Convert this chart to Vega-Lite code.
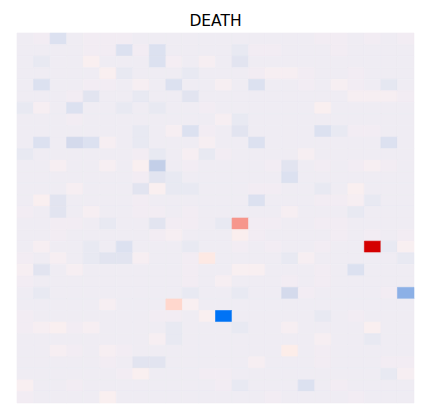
{"$schema":"https://vega.github.io/schema/vega-lite/v6.json","width":397,"height":370,"autosize":{"type":"none"},"padding":{"left":17,"top":33,"right":16,"bottom":17},"title":{"text":"DEATH","font":"DejaVu Sans","fontSize":15.5,"fontWeight":"normal","color":"#000000","offset":3.5},"config":{"view":{"stroke":null}},
"data":{"values":[
{"r":0,"c":0,"v":0},{"r":0,"c":1,"v":0.02},{"r":0,"c":2,"v":-0.08},{"r":0,"c":3,"v":0},{"r":0,"c":4,"v":0.02},{"r":0,"c":5,"v":0.02},{"r":0,"c":6,"v":0.02},{"r":0,"c":7,"v":0},{"r":0,"c":8,"v":0},{"r":0,"c":9,"v":0},{"r":0,"c":10,"v":0},{"r":0,"c":11,"v":0},{"r":0,"c":12,"v":0},{"r":0,"c":13,"v":0},{"r":0,"c":14,"v":0},{"r":0,"c":15,"v":0},{"r":0,"c":16,"v":0},{"r":0,"c":17,"v":0},{"r":0,"c":18,"v":0.02},{"r":0,"c":19,"v":0.02},{"r":0,"c":20,"v":0},{"r":0,"c":21,"v":0.02},{"r":0,"c":22,"v":0},{"r":0,"c":23,"v":0.02},
{"r":1,"c":0,"v":0},{"r":1,"c":1,"v":0},{"r":1,"c":2,"v":0},{"r":1,"c":3,"v":0},{"r":1,"c":4,"v":0.02},{"r":1,"c":5,"v":0.02},{"r":1,"c":6,"v":-0.08},{"r":1,"c":7,"v":0.02},{"r":1,"c":8,"v":-0.08},{"r":1,"c":9,"v":0},{"r":1,"c":10,"v":0},{"r":1,"c":11,"v":0},{"r":1,"c":12,"v":0},{"r":1,"c":13,"v":-0.03},{"r":1,"c":14,"v":0.02},{"r":1,"c":15,"v":0.02},{"r":1,"c":16,"v":0},{"r":1,"c":17,"v":0},{"r":1,"c":18,"v":0},{"r":1,"c":19,"v":0.02},{"r":1,"c":20,"v":0},{"r":1,"c":21,"v":0},{"r":1,"c":22,"v":0},{"r":1,"c":23,"v":0},
{"r":2,"c":0,"v":0},{"r":2,"c":1,"v":-0.03},{"r":2,"c":2,"v":0},{"r":2,"c":3,"v":0},{"r":2,"c":4,"v":0.06},{"r":2,"c":5,"v":0},{"r":2,"c":6,"v":0},{"r":2,"c":7,"v":0},{"r":2,"c":8,"v":-0.08},{"r":2,"c":9,"v":0.03},{"r":2,"c":10,"v":0},{"r":2,"c":11,"v":0.04},{"r":2,"c":12,"v":0},{"r":2,"c":13,"v":-0.05},{"r":2,"c":14,"v":0},{"r":2,"c":15,"v":0},{"r":2,"c":16,"v":0},{"r":2,"c":17,"v":0},{"r":2,"c":18,"v":0},{"r":2,"c":19,"v":0},{"r":2,"c":20,"v":0},{"r":2,"c":21,"v":0},{"r":2,"c":22,"v":0},{"r":2,"c":23,"v":0},
{"r":3,"c":0,"v":0},{"r":3,"c":1,"v":0},{"r":3,"c":2,"v":0},{"r":3,"c":3,"v":0},{"r":3,"c":4,"v":0},{"r":3,"c":5,"v":0.06},{"r":3,"c":6,"v":-0.03},{"r":3,"c":7,"v":0},{"r":3,"c":8,"v":0},{"r":3,"c":9,"v":0},{"r":3,"c":10,"v":-0.03},{"r":3,"c":11,"v":0},{"r":3,"c":12,"v":0},{"r":3,"c":13,"v":0},{"r":3,"c":14,"v":0.02},{"r":3,"c":15,"v":0.04},{"r":3,"c":16,"v":0.04},{"r":3,"c":17,"v":0.02},{"r":3,"c":18,"v":0},{"r":3,"c":19,"v":0},{"r":3,"c":20,"v":0.02},{"r":3,"c":21,"v":0},{"r":3,"c":22,"v":0},{"r":3,"c":23,"v":0},
{"r":4,"c":0,"v":0},{"r":4,"c":1,"v":-0.08},{"r":4,"c":2,"v":0},{"r":4,"c":3,"v":0},{"r":4,"c":4,"v":0.02},{"r":4,"c":5,"v":0.02},{"r":4,"c":6,"v":0},{"r":4,"c":7,"v":0.04},{"r":4,"c":8,"v":0},{"r":4,"c":9,"v":-0.08},{"r":4,"c":10,"v":0},{"r":4,"c":11,"v":0},{"r":4,"c":12,"v":0.04},{"r":4,"c":13,"v":0},{"r":4,"c":14,"v":-0.08},{"r":4,"c":15,"v":0},{"r":4,"c":16,"v":0},{"r":4,"c":17,"v":0.02},{"r":4,"c":18,"v":0},{"r":4,"c":19,"v":0.04},{"r":4,"c":20,"v":0.02},{"r":4,"c":21,"v":0},{"r":4,"c":22,"v":-0.04},{"r":4,"c":23,"v":0},
{"r":5,"c":0,"v":0},{"r":5,"c":1,"v":0},{"r":5,"c":2,"v":0},{"r":5,"c":3,"v":0.02},{"r":5,"c":4,"v":-0.05},{"r":5,"c":5,"v":0},{"r":5,"c":6,"v":0},{"r":5,"c":7,"v":-0.03},{"r":5,"c":8,"v":0},{"r":5,"c":9,"v":0},{"r":5,"c":10,"v":-0.05},{"r":5,"c":11,"v":0},{"r":5,"c":12,"v":0},{"r":5,"c":13,"v":0},{"r":5,"c":14,"v":0},{"r":5,"c":15,"v":0},{"r":5,"c":16,"v":0},{"r":5,"c":17,"v":0},{"r":5,"c":18,"v":0},{"r":5,"c":19,"v":0},{"r":5,"c":20,"v":0.04},{"r":5,"c":21,"v":0.04},{"r":5,"c":22,"v":0.04},{"r":5,"c":23,"v":0.02},
{"r":6,"c":0,"v":-0.03},{"r":6,"c":1,"v":0.04},{"r":6,"c":2,"v":0},{"r":6,"c":3,"v":-0.08},{"r":6,"c":4,"v":0},{"r":6,"c":5,"v":0},{"r":6,"c":6,"v":-0.03},{"r":6,"c":7,"v":0},{"r":6,"c":8,"v":-0.03},{"r":6,"c":9,"v":0},{"r":6,"c":10,"v":0},{"r":6,"c":11,"v":0.02},{"r":6,"c":12,"v":0},{"r":6,"c":13,"v":0},{"r":6,"c":14,"v":0},{"r":6,"c":15,"v":0},{"r":6,"c":16,"v":0},{"r":6,"c":17,"v":0},{"r":6,"c":18,"v":0.06},{"r":6,"c":19,"v":0},{"r":6,"c":20,"v":0},{"r":6,"c":21,"v":0},{"r":6,"c":22,"v":0},{"r":6,"c":23,"v":0},
{"r":7,"c":0,"v":0},{"r":7,"c":1,"v":0},{"r":7,"c":2,"v":0},{"r":7,"c":3,"v":0.02},{"r":7,"c":4,"v":0},{"r":7,"c":5,"v":0},{"r":7,"c":6,"v":0},{"r":7,"c":7,"v":0},{"r":7,"c":8,"v":0},{"r":7,"c":9,"v":0},{"r":7,"c":10,"v":0},{"r":7,"c":11,"v":0},{"r":7,"c":12,"v":0.04},{"r":7,"c":13,"v":-0.03},{"r":7,"c":14,"v":0},{"r":7,"c":15,"v":0},{"r":7,"c":16,"v":0},{"r":7,"c":17,"v":0},{"r":7,"c":18,"v":0},{"r":7,"c":19,"v":0},{"r":7,"c":20,"v":0},{"r":7,"c":21,"v":0},{"r":7,"c":22,"v":0},{"r":7,"c":23,"v":0},
{"r":8,"c":0,"v":0},{"r":8,"c":1,"v":0},{"r":8,"c":2,"v":0},{"r":8,"c":3,"v":0},{"r":8,"c":4,"v":0},{"r":8,"c":5,"v":0},{"r":8,"c":6,"v":0},{"r":8,"c":7,"v":-0.03},{"r":8,"c":8,"v":0},{"r":8,"c":9,"v":0.04},{"r":8,"c":10,"v":-0.08},{"r":8,"c":11,"v":0.02},{"r":8,"c":12,"v":0},{"r":8,"c":13,"v":-0.05},{"r":8,"c":14,"v":0},{"r":8,"c":15,"v":0},{"r":8,"c":16,"v":0},{"r":8,"c":17,"v":0},{"r":8,"c":18,"v":-0.08},{"r":8,"c":19,"v":-0.03},{"r":8,"c":20,"v":0.02},{"r":8,"c":21,"v":0.02},{"r":8,"c":22,"v":0},{"r":8,"c":23,"v":0},
{"r":9,"c":0,"v":0},{"r":9,"c":1,"v":-0.08},{"r":9,"c":2,"v":0},{"r":9,"c":3,"v":-0.12},{"r":9,"c":4,"v":-0.08},{"r":9,"c":5,"v":0.04},{"r":9,"c":6,"v":0},{"r":9,"c":7,"v":-0.03},{"r":9,"c":8,"v":0},{"r":9,"c":9,"v":0},{"r":9,"c":10,"v":0},{"r":9,"c":11,"v":0.04},{"r":9,"c":12,"v":0},{"r":9,"c":13,"v":0},{"r":9,"c":14,"v":-0.08},{"r":9,"c":15,"v":0},{"r":9,"c":16,"v":0},{"r":9,"c":17,"v":0},{"r":9,"c":18,"v":0},{"r":9,"c":19,"v":0},{"r":9,"c":20,"v":0},{"r":9,"c":21,"v":0},{"r":9,"c":22,"v":-0.08},{"r":9,"c":23,"v":0},
{"r":10,"c":0,"v":-0.03},{"r":10,"c":1,"v":0},{"r":10,"c":2,"v":0},{"r":10,"c":3,"v":0},{"r":10,"c":4,"v":0},{"r":10,"c":5,"v":0},{"r":10,"c":6,"v":0},{"r":10,"c":7,"v":0.02},{"r":10,"c":8,"v":-0.03},{"r":10,"c":9,"v":0},{"r":10,"c":10,"v":0.04},{"r":10,"c":11,"v":-0.03},{"r":10,"c":12,"v":0.02},{"r":10,"c":13,"v":0},{"r":10,"c":14,"v":0},{"r":10,"c":15,"v":0},{"r":10,"c":16,"v":0},{"r":10,"c":17,"v":0.04},{"r":10,"c":18,"v":0},{"r":10,"c":19,"v":0},{"r":10,"c":20,"v":0},{"r":10,"c":21,"v":0},{"r":10,"c":22,"v":0},{"r":10,"c":23,"v":0},
{"r":11,"c":0,"v":0},{"r":11,"c":1,"v":0},{"r":11,"c":2,"v":0.04},{"r":11,"c":3,"v":0},{"r":11,"c":4,"v":0},{"r":11,"c":5,"v":0.04},{"r":11,"c":6,"v":0},{"r":11,"c":7,"v":0.06},{"r":11,"c":8,"v":-0.25},{"r":11,"c":9,"v":0},{"r":11,"c":10,"v":0.02},{"r":11,"c":11,"v":0},{"r":11,"c":12,"v":0},{"r":11,"c":13,"v":0},{"r":11,"c":14,"v":0},{"r":11,"c":15,"v":0.02},{"r":11,"c":16,"v":-0.05},{"r":11,"c":17,"v":0},{"r":11,"c":18,"v":0.02},{"r":11,"c":19,"v":0},{"r":11,"c":20,"v":0.02},{"r":11,"c":21,"v":0.04},{"r":11,"c":22,"v":0.02},{"r":11,"c":23,"v":0},
{"r":12,"c":0,"v":0},{"r":12,"c":1,"v":0},{"r":12,"c":2,"v":0},{"r":12,"c":3,"v":0},{"r":12,"c":4,"v":0},{"r":12,"c":5,"v":0},{"r":12,"c":6,"v":0},{"r":12,"c":7,"v":0.02},{"r":12,"c":8,"v":-0.05},{"r":12,"c":9,"v":-0.03},{"r":12,"c":10,"v":0},{"r":12,"c":11,"v":0},{"r":12,"c":12,"v":0},{"r":12,"c":13,"v":0},{"r":12,"c":14,"v":0},{"r":12,"c":15,"v":0},{"r":12,"c":16,"v":-0.08},{"r":12,"c":17,"v":0},{"r":12,"c":18,"v":0},{"r":12,"c":19,"v":0},{"r":12,"c":20,"v":0},{"r":12,"c":21,"v":0},{"r":12,"c":22,"v":0},{"r":12,"c":23,"v":0},
{"r":13,"c":0,"v":0},{"r":13,"c":1,"v":0},{"r":13,"c":2,"v":0},{"r":13,"c":3,"v":0.04},{"r":13,"c":4,"v":0},{"r":13,"c":5,"v":0},{"r":13,"c":6,"v":0},{"r":13,"c":7,"v":-0.05},{"r":13,"c":8,"v":0.06},{"r":13,"c":9,"v":-0.03},{"r":13,"c":10,"v":-0.03},{"r":13,"c":11,"v":0},{"r":13,"c":12,"v":0},{"r":13,"c":13,"v":0},{"r":13,"c":14,"v":0.02},{"r":13,"c":15,"v":0.02},{"r":13,"c":16,"v":0},{"r":13,"c":17,"v":0},{"r":13,"c":18,"v":-0.03},{"r":13,"c":19,"v":0},{"r":13,"c":20,"v":0.06},{"r":13,"c":21,"v":0},{"r":13,"c":22,"v":0},{"r":13,"c":23,"v":0},
{"r":14,"c":0,"v":0},{"r":14,"c":1,"v":0.06},{"r":14,"c":2,"v":-0.05},{"r":14,"c":3,"v":0},{"r":14,"c":4,"v":0},{"r":14,"c":5,"v":0},{"r":14,"c":6,"v":0},{"r":14,"c":7,"v":0.02},{"r":14,"c":8,"v":0},{"r":14,"c":9,"v":0},{"r":14,"c":10,"v":0},{"r":14,"c":11,"v":0},{"r":14,"c":12,"v":0},{"r":14,"c":13,"v":0},{"r":14,"c":14,"v":-0.08},{"r":14,"c":15,"v":0},{"r":14,"c":16,"v":0},{"r":14,"c":17,"v":0},{"r":14,"c":18,"v":0.02},{"r":14,"c":19,"v":0.02},{"r":14,"c":20,"v":0.04},{"r":14,"c":21,"v":-0.03},{"r":14,"c":22,"v":0},{"r":14,"c":23,"v":0},
{"r":15,"c":0,"v":0.02},{"r":15,"c":1,"v":0},{"r":15,"c":2,"v":-0.05},{"r":15,"c":3,"v":0},{"r":15,"c":4,"v":0.04},{"r":15,"c":5,"v":0},{"r":15,"c":6,"v":0},{"r":15,"c":7,"v":0.02},{"r":15,"c":8,"v":0.02},{"r":15,"c":9,"v":0},{"r":15,"c":10,"v":0.02},{"r":15,"c":11,"v":0},{"r":15,"c":12,"v":0},{"r":15,"c":13,"v":0},{"r":15,"c":14,"v":0},{"r":15,"c":15,"v":0},{"r":15,"c":16,"v":0.04},{"r":15,"c":17,"v":0},{"r":15,"c":18,"v":0},{"r":15,"c":19,"v":0},{"r":15,"c":20,"v":-0.03},{"r":15,"c":21,"v":0},{"r":15,"c":22,"v":0},{"r":15,"c":23,"v":0},
{"r":16,"c":0,"v":0},{"r":16,"c":1,"v":0},{"r":16,"c":2,"v":0.02},{"r":16,"c":3,"v":0.02},{"r":16,"c":4,"v":0},{"r":16,"c":5,"v":-0.03},{"r":16,"c":6,"v":0},{"r":16,"c":7,"v":0},{"r":16,"c":8,"v":-0.05},{"r":16,"c":9,"v":0.02},{"r":16,"c":10,"v":0.02},{"r":16,"c":11,"v":0},{"r":16,"c":12,"v":-0.03},{"r":16,"c":13,"v":0.45},{"r":16,"c":14,"v":0.02},{"r":16,"c":15,"v":0.02},{"r":16,"c":16,"v":0},{"r":16,"c":17,"v":0},{"r":16,"c":18,"v":0.02},{"r":16,"c":19,"v":0.02},{"r":16,"c":20,"v":0},{"r":16,"c":21,"v":0},{"r":16,"c":22,"v":0},{"r":16,"c":23,"v":0},
{"r":17,"c":0,"v":0},{"r":17,"c":1,"v":0},{"r":17,"c":2,"v":0.02},{"r":17,"c":3,"v":0},{"r":17,"c":4,"v":0},{"r":17,"c":5,"v":0},{"r":17,"c":6,"v":0},{"r":17,"c":7,"v":0},{"r":17,"c":8,"v":0.02},{"r":17,"c":9,"v":0.04},{"r":17,"c":10,"v":0},{"r":17,"c":11,"v":0},{"r":17,"c":12,"v":0},{"r":17,"c":13,"v":0.07},{"r":17,"c":14,"v":0.02},{"r":17,"c":15,"v":0},{"r":17,"c":16,"v":0},{"r":17,"c":17,"v":0},{"r":17,"c":18,"v":0},{"r":17,"c":19,"v":0.02},{"r":17,"c":20,"v":0},{"r":17,"c":21,"v":0.02},{"r":17,"c":22,"v":0},{"r":17,"c":23,"v":0.02},
{"r":18,"c":0,"v":0},{"r":18,"c":1,"v":0.04},{"r":18,"c":2,"v":0},{"r":18,"c":3,"v":0},{"r":18,"c":4,"v":-0.03},{"r":18,"c":5,"v":0},{"r":18,"c":6,"v":-0.08},{"r":18,"c":7,"v":0},{"r":18,"c":8,"v":0},{"r":18,"c":9,"v":0},{"r":18,"c":10,"v":-0.03},{"r":18,"c":11,"v":0},{"r":18,"c":12,"v":0},{"r":18,"c":13,"v":0.02},{"r":18,"c":14,"v":0},{"r":18,"c":15,"v":0.02},{"r":18,"c":16,"v":0},{"r":18,"c":17,"v":0},{"r":18,"c":18,"v":0.02},{"r":18,"c":19,"v":0},{"r":18,"c":20,"v":0},{"r":18,"c":21,"v":1},{"r":18,"c":22,"v":-0.03},{"r":18,"c":23,"v":0.05},
{"r":19,"c":0,"v":0.02},{"r":19,"c":1,"v":0},{"r":19,"c":2,"v":0.04},{"r":19,"c":3,"v":0},{"r":19,"c":4,"v":-0.03},{"r":19,"c":5,"v":-0.05},{"r":19,"c":6,"v":-0.05},{"r":19,"c":7,"v":0.04},{"r":19,"c":8,"v":0},{"r":19,"c":9,"v":0},{"r":19,"c":10,"v":0.02},{"r":19,"c":11,"v":0.1},{"r":19,"c":12,"v":0},{"r":19,"c":13,"v":0},{"r":19,"c":14,"v":0},{"r":19,"c":15,"v":0},{"r":19,"c":16,"v":-0.03},{"r":19,"c":17,"v":0.04},{"r":19,"c":18,"v":0},{"r":19,"c":19,"v":0},{"r":19,"c":20,"v":0},{"r":19,"c":21,"v":0},{"r":19,"c":22,"v":0},{"r":19,"c":23,"v":-0.03},
{"r":20,"c":0,"v":0.04},{"r":20,"c":1,"v":-0.05},{"r":20,"c":2,"v":0},{"r":20,"c":3,"v":0.04},{"r":20,"c":4,"v":0},{"r":20,"c":5,"v":0},{"r":20,"c":6,"v":0},{"r":20,"c":7,"v":0},{"r":20,"c":8,"v":0},{"r":20,"c":9,"v":0},{"r":20,"c":10,"v":0.02},{"r":20,"c":11,"v":0},{"r":20,"c":12,"v":0},{"r":20,"c":13,"v":0.05},{"r":20,"c":14,"v":0.05},{"r":20,"c":15,"v":0},{"r":20,"c":16,"v":0},{"r":20,"c":17,"v":0},{"r":20,"c":18,"v":0.02},{"r":20,"c":19,"v":0},{"r":20,"c":20,"v":-0.08},{"r":20,"c":21,"v":0},{"r":20,"c":22,"v":0},{"r":20,"c":23,"v":0},
{"r":21,"c":0,"v":0.02},{"r":21,"c":1,"v":0},{"r":21,"c":2,"v":0},{"r":21,"c":3,"v":0},{"r":21,"c":4,"v":0},{"r":21,"c":5,"v":0},{"r":21,"c":6,"v":0},{"r":21,"c":7,"v":0},{"r":21,"c":8,"v":0},{"r":21,"c":9,"v":0},{"r":21,"c":10,"v":0.02},{"r":21,"c":11,"v":0},{"r":21,"c":12,"v":0.04},{"r":21,"c":13,"v":0},{"r":21,"c":14,"v":0},{"r":21,"c":15,"v":0},{"r":21,"c":16,"v":0.02},{"r":21,"c":17,"v":0},{"r":21,"c":18,"v":0.02},{"r":21,"c":19,"v":0},{"r":21,"c":20,"v":0},{"r":21,"c":21,"v":0},{"r":21,"c":22,"v":0},{"r":21,"c":23,"v":0},
{"r":22,"c":0,"v":0},{"r":22,"c":1,"v":-0.03},{"r":22,"c":2,"v":0},{"r":22,"c":3,"v":0},{"r":22,"c":4,"v":0},{"r":22,"c":5,"v":0},{"r":22,"c":6,"v":0},{"r":22,"c":7,"v":0},{"r":22,"c":8,"v":0},{"r":22,"c":9,"v":0},{"r":22,"c":10,"v":-0.03},{"r":22,"c":11,"v":0},{"r":22,"c":12,"v":0},{"r":22,"c":13,"v":-0.03},{"r":22,"c":14,"v":0},{"r":22,"c":15,"v":0},{"r":22,"c":16,"v":-0.12},{"r":22,"c":17,"v":0.02},{"r":22,"c":18,"v":0},{"r":22,"c":19,"v":0},{"r":22,"c":20,"v":0},{"r":22,"c":21,"v":0},{"r":22,"c":22,"v":0.02},{"r":22,"c":23,"v":-0.48},
{"r":23,"c":0,"v":0},{"r":23,"c":1,"v":0},{"r":23,"c":2,"v":0},{"r":23,"c":3,"v":0},{"r":23,"c":4,"v":0},{"r":23,"c":5,"v":0.04},{"r":23,"c":6,"v":0},{"r":23,"c":7,"v":0},{"r":23,"c":8,"v":0},{"r":23,"c":9,"v":0.15},{"r":23,"c":10,"v":0.05},{"r":23,"c":11,"v":0},{"r":23,"c":12,"v":0},{"r":23,"c":13,"v":0},{"r":23,"c":14,"v":0},{"r":23,"c":15,"v":0},{"r":23,"c":16,"v":0},{"r":23,"c":17,"v":0},{"r":23,"c":18,"v":0},{"r":23,"c":19,"v":0},{"r":23,"c":20,"v":0},{"r":23,"c":21,"v":0},{"r":23,"c":22,"v":0},{"r":23,"c":23,"v":0},
{"r":24,"c":0,"v":0.02},{"r":24,"c":1,"v":0},{"r":24,"c":2,"v":0},{"r":24,"c":3,"v":0},{"r":24,"c":4,"v":0},{"r":24,"c":5,"v":0},{"r":24,"c":6,"v":0},{"r":24,"c":7,"v":0},{"r":24,"c":8,"v":0.02},{"r":24,"c":9,"v":0.02},{"r":24,"c":10,"v":0},{"r":24,"c":11,"v":0.06},{"r":24,"c":12,"v":-1},{"r":24,"c":13,"v":0},{"r":24,"c":14,"v":0},{"r":24,"c":15,"v":0},{"r":24,"c":16,"v":0},{"r":24,"c":17,"v":0},{"r":24,"c":18,"v":-0.03},{"r":24,"c":19,"v":0},{"r":24,"c":20,"v":0.02},{"r":24,"c":21,"v":0},{"r":24,"c":22,"v":0},{"r":24,"c":23,"v":0},
{"r":25,"c":0,"v":0.02},{"r":25,"c":1,"v":0.04},{"r":25,"c":2,"v":0.06},{"r":25,"c":3,"v":0.02},{"r":25,"c":4,"v":0.04},{"r":25,"c":5,"v":0},{"r":25,"c":6,"v":0},{"r":25,"c":7,"v":0},{"r":25,"c":8,"v":0},{"r":25,"c":9,"v":-0.03},{"r":25,"c":10,"v":0},{"r":25,"c":11,"v":0},{"r":25,"c":12,"v":0},{"r":25,"c":13,"v":-0.03},{"r":25,"c":14,"v":0},{"r":25,"c":15,"v":0},{"r":25,"c":16,"v":0.04},{"r":25,"c":17,"v":0},{"r":25,"c":18,"v":0},{"r":25,"c":19,"v":0},{"r":25,"c":20,"v":0},{"r":25,"c":21,"v":0.06},{"r":25,"c":22,"v":0},{"r":25,"c":23,"v":0},
{"r":26,"c":0,"v":0},{"r":26,"c":1,"v":0},{"r":26,"c":2,"v":0},{"r":26,"c":3,"v":0},{"r":26,"c":4,"v":0},{"r":26,"c":5,"v":0},{"r":26,"c":6,"v":0},{"r":26,"c":7,"v":0},{"r":26,"c":8,"v":0.04},{"r":26,"c":9,"v":-0.03},{"r":26,"c":10,"v":0},{"r":26,"c":11,"v":0},{"r":26,"c":12,"v":0},{"r":26,"c":13,"v":0},{"r":26,"c":14,"v":0},{"r":26,"c":15,"v":0},{"r":26,"c":16,"v":0},{"r":26,"c":17,"v":0},{"r":26,"c":18,"v":0.04},{"r":26,"c":19,"v":0},{"r":26,"c":20,"v":0},{"r":26,"c":21,"v":-0.03},{"r":26,"c":22,"v":0},{"r":26,"c":23,"v":0},
{"r":27,"c":0,"v":0},{"r":27,"c":1,"v":0},{"r":27,"c":2,"v":0.04},{"r":27,"c":3,"v":0.02},{"r":27,"c":4,"v":0},{"r":27,"c":5,"v":0.04},{"r":27,"c":6,"v":0.02},{"r":27,"c":7,"v":0},{"r":27,"c":8,"v":0},{"r":27,"c":9,"v":0},{"r":27,"c":10,"v":0},{"r":27,"c":11,"v":0},{"r":27,"c":12,"v":0},{"r":27,"c":13,"v":0},{"r":27,"c":14,"v":0},{"r":27,"c":15,"v":0},{"r":27,"c":16,"v":0.09},{"r":27,"c":17,"v":0},{"r":27,"c":18,"v":0.02},{"r":27,"c":19,"v":0},{"r":27,"c":20,"v":0},{"r":27,"c":21,"v":0},{"r":27,"c":22,"v":0},{"r":27,"c":23,"v":0},
{"r":28,"c":0,"v":0},{"r":28,"c":1,"v":0},{"r":28,"c":2,"v":0},{"r":28,"c":3,"v":0},{"r":28,"c":4,"v":0},{"r":28,"c":5,"v":0.02},{"r":28,"c":6,"v":0},{"r":28,"c":7,"v":-0.05},{"r":28,"c":8,"v":-0.05},{"r":28,"c":9,"v":0},{"r":28,"c":10,"v":0},{"r":28,"c":11,"v":0},{"r":28,"c":12,"v":0},{"r":28,"c":13,"v":0},{"r":28,"c":14,"v":0.04},{"r":28,"c":15,"v":0},{"r":28,"c":16,"v":0},{"r":28,"c":17,"v":0},{"r":28,"c":18,"v":0.02},{"r":28,"c":19,"v":0},{"r":28,"c":20,"v":0},{"r":28,"c":21,"v":0},{"r":28,"c":22,"v":0.02},{"r":28,"c":23,"v":0.02},
{"r":29,"c":0,"v":0},{"r":29,"c":1,"v":0},{"r":29,"c":2,"v":0},{"r":29,"c":3,"v":0},{"r":29,"c":4,"v":0},{"r":29,"c":5,"v":0},{"r":29,"c":6,"v":0.02},{"r":29,"c":7,"v":0.06},{"r":29,"c":8,"v":0},{"r":29,"c":9,"v":0},{"r":29,"c":10,"v":0},{"r":29,"c":11,"v":0.02},{"r":29,"c":12,"v":0.02},{"r":29,"c":13,"v":0},{"r":29,"c":14,"v":0},{"r":29,"c":15,"v":0},{"r":29,"c":16,"v":0},{"r":29,"c":17,"v":0},{"r":29,"c":18,"v":0},{"r":29,"c":19,"v":0},{"r":29,"c":20,"v":0},{"r":29,"c":21,"v":0},{"r":29,"c":22,"v":-0.03},{"r":29,"c":23,"v":0.04},
{"r":30,"c":0,"v":0.05},{"r":30,"c":1,"v":0},{"r":30,"c":2,"v":0},{"r":30,"c":3,"v":0.02},{"r":30,"c":4,"v":0},{"r":30,"c":5,"v":0},{"r":30,"c":6,"v":0},{"r":30,"c":7,"v":0},{"r":30,"c":8,"v":0},{"r":30,"c":9,"v":0},{"r":30,"c":10,"v":0},{"r":30,"c":11,"v":0},{"r":30,"c":12,"v":0.02},{"r":30,"c":13,"v":-0.03},{"r":30,"c":14,"v":0},{"r":30,"c":15,"v":0},{"r":30,"c":16,"v":0},{"r":30,"c":17,"v":-0.08},{"r":30,"c":18,"v":0},{"r":30,"c":19,"v":0.02},{"r":30,"c":20,"v":0},{"r":30,"c":21,"v":0},{"r":30,"c":22,"v":0},{"r":30,"c":23,"v":0},
{"r":31,"c":0,"v":0.02},{"r":31,"c":1,"v":0},{"r":31,"c":2,"v":0},{"r":31,"c":3,"v":0},{"r":31,"c":4,"v":0},{"r":31,"c":5,"v":0.06},{"r":31,"c":6,"v":0},{"r":31,"c":7,"v":0},{"r":31,"c":8,"v":0},{"r":31,"c":9,"v":0},{"r":31,"c":10,"v":0},{"r":31,"c":11,"v":0},{"r":31,"c":12,"v":0},{"r":31,"c":13,"v":0},{"r":31,"c":14,"v":0},{"r":31,"c":15,"v":0.02},{"r":31,"c":16,"v":0},{"r":31,"c":17,"v":0},{"r":31,"c":18,"v":0},{"r":31,"c":19,"v":0},{"r":31,"c":20,"v":0.02},{"r":31,"c":21,"v":0},{"r":31,"c":22,"v":0},{"r":31,"c":23,"v":0}
]},
"mark":{"type":"rect","strokeWidth":0.6},
"encoding":{
"x":{"field":"c","type":"ordinal","axis":null,"scale":{"paddingInner":0,"paddingOuter":0}},
"y":{"field":"r","type":"ordinal","axis":null,"scale":{"paddingInner":0,"paddingOuter":0}},
"color":{"field":"v","type":"quantitative","legend":null,"scale":{"domain":[-1,-0.48,-0.25,-0.12,-0.08,-0.05,-0.03,0,0.02,0.04,0.06,0.09,0.15,0.45,1],"range":["#0073f5","#8cb0e6","#c3cfe8","#d4daec","#dce1f0","#e2e4f0","#e8e9f2","#efecf3","#f2ecf3","#f6eef2","#f9eff0","#fcede9","#ffd7cd","#f6968c","#d40000"],"interpolate":"rgb"}},
"stroke":{"field":"v","type":"quantitative","legend":null,"scale":{"domain":[-1,-0.48,-0.25,-0.12,-0.08,-0.05,-0.03,0,0.02,0.04,0.06,0.09,0.15,0.45,1],"range":["#0073f5","#8cb0e6","#c3cfe8","#d4daec","#dce1f0","#e2e4f0","#e8e9f2","#efecf3","#f2ecf3","#f6eef2","#f9eff0","#fcede9","#ffd7cd","#f6968c","#d40000"],"interpolate":"rgb"}}
}}
